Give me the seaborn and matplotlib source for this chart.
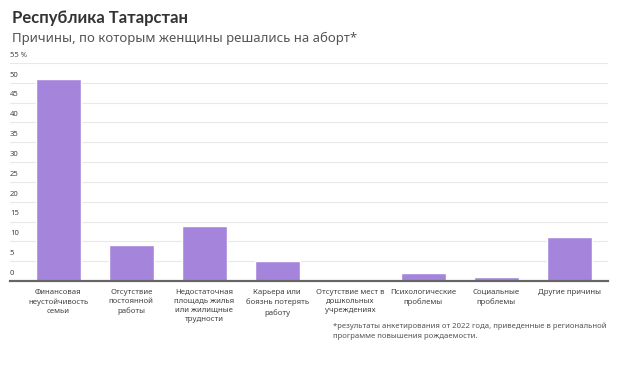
import matplotlib
matplotlib.use("Agg")
import matplotlib.pyplot as plt
import matplotlib.transforms as mtransforms
import pandas as pd
import seaborn as sns

# ── data ─────────────────────────────────────────────────────────────────────

REASONS = [
    "Финансовая\nнеустойчивость\nсемьи",
    "Отсутствие\nпостоянной\nработы",
    "Недостаточная\nплощадь жилья\nили жилищные\nтрудности",
    "Карьера или\nбоязнь потерять\nработу",
    "Отсутствие мест в\nдошкольных\nучреждениях",
    "Психологические\nпроблемы",
    "Социальные\nпроблемы",
    "Другие причины",
]
SHARES = [51, 9, 14, 5, 0, 2, 1, 11]
Y_TICKS = [0, 5, 10, 15, 20, 25, 30, 35, 40, 45, 50, 55]
Y_TICK_LABELS = ["0", "5", "10", "15", "20", "25", "30", "35", "40", "45", "50", "55 %"]

TITLE = "Республика Татарстан"
SUBTITLE = "Причины, по которым женщины решались на аборт*"
FOOTNOTE = ("*результаты анкетирования от 2022 года, приведенные в региональной\n"
            "программе повышения рождаемости.")

BAR_COLOR = "#a585dc"
FONT = "Noto Sans"


def main() -> None:
    sns.set_theme(style="white")
    plt.rcParams["font.family"] = [FONT, "DejaVu Sans"]

    df = pd.DataFrame({"reason": REASONS, "share": SHARES})

    W, H = 620, 365
    fig = plt.figure(figsize=(W / 100, H / 100), dpi=100)
    # axes box in pixels: left 10, right 608, top 63, bottom 281
    ax = fig.add_axes([10 / W, (H - 281) / H, 598 / W, (281 - 63) / H])

    sns.barplot(data=df, x="reason", y="share", color=BAR_COLOR,
                saturation=1, width=0.62, ax=ax)

    ax.set_xlim(-0.66, 7.53)
    ax.set_ylim(0, 55)
    ax.set_xlabel("")
    ax.set_ylabel("")

    # gridlines
    for t in Y_TICKS[1:]:
        ax.axhline(t, color="#e8e8e8", linewidth=0.8, zorder=0)
    ax.set_axisbelow(True)

    # y labels sit just above the gridlines, inside the axes
    ax.set_yticks([])
    trans = mtransforms.blended_transform_factory(ax.transAxes, ax.transData)
    offset = mtransforms.ScaledTranslation(0, 3 / 72, fig.dpi_scale_trans)
    for t, lab in zip(Y_TICKS, Y_TICK_LABELS):
        ax.text(0.0, t, lab, transform=trans + offset, ha="left", va="bottom",
                fontsize=5.5, color="#444444")

    ax.tick_params(axis="x", length=0, pad=6)
    ax.set_xticks(range(len(REASONS)))
    ax.set_xticklabels(REASONS, fontsize=5.6, color="#444444", linespacing=1.4,
                       va="top")

    for side in ["top", "right", "left"]:
        ax.spines[side].set_visible(False)
    ax.spines["bottom"].set_color("#666666")
    ax.spines["bottom"].set_linewidth(1.6)

    fig.text(12 / W, 1 - 18 / H, TITLE, fontsize=12, fontweight="bold",
             family=["Lato", "DejaVu Sans"], color="#333333",
             ha="left", va="center")
    fig.text(12 / W, 1 - 38 / H, SUBTITLE, fontsize=9.5, color="#555555",
             ha="left", va="center")
    fig.text(333 / W, 1 - 322 / H, FOOTNOTE, fontsize=5.55, color="#555555",
             ha="left", va="top", linespacing=1.7)

    fig.savefig("out.png", dpi=100)
    plt.close(fig)


if __name__ == "__main__":
    main()
